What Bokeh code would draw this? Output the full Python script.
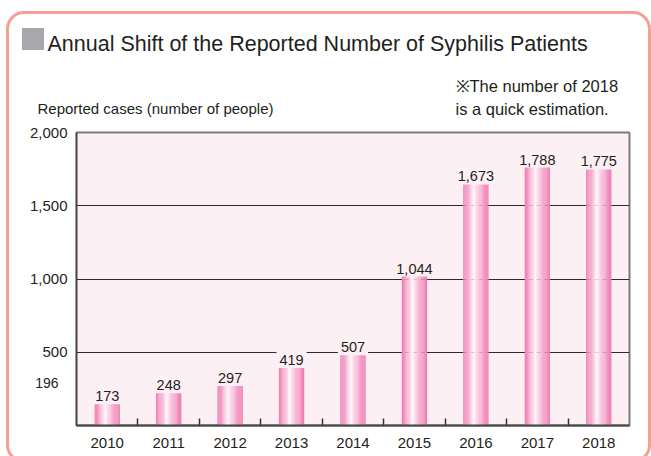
from bokeh.plotting import figure
from bokeh.models import Range1d, FixedTicker, Label, ColumnDataSource, InlineStyleSheet
from bokeh.core.properties import value
from bokeh.embed import file_html
from bokeh.resources import INLINE

# ---- data ----
years = ["2010", "2011", "2012", "2013", "2014", "2015", "2016", "2017", "2018"]
cases = [173, 248, 297, 419, 507, 1044, 1673, 1788, 1775]
case_labels = ["173", "248", "297", "419", "507", "1,044", "1,673", "1,788", "1,775"]
y_ticks = [500, 1000, 1500, 2000]
y_tick_labels = ["500", "1,000", "1,500", "2,000"]

TITLE = "Annual Shift of the Reported Number of Syphilis Patients"
Y_LABEL = "Reported cases (number of people)"
NOTE1 = "※The number of 2018"
NOTE2 = "is a quick estimation."
STRAY = "196"

TXT = "#231f20"
PINK_BG = "#fdf0f4"
FONT = "Liberation Sans"
W, H = 651, 456

p = figure(width=W, height=H, output_backend="svg", toolbar_location=None,
           x_range=Range1d(-0.5, 8.5), y_range=Range1d(0, 2000),
           min_border_left=76, min_border_right=22, min_border_top=132, min_border_bottom=31)
p.background_fill_color = PINK_BG
p.border_fill_color = "white"
p.outline_line_color = "#7a7a7a"
p.outline_line_width = 2
p.xgrid.grid_line_color = None
p.ygrid.ticker = FixedTicker(ticks=y_ticks[:-1])
p.ygrid.grid_line_color = "#2b2b2b"
p.ygrid.grid_line_width = 1

xax = p.xaxis[0]
xax.ticker = FixedTicker(ticks=list(range(len(years))), minor_ticks=[i + 0.5 for i in range(len(years) - 1)])
xax.major_label_overrides = {i: y for i, y in enumerate(years)}
xax.major_tick_line_color = None
xax.minor_tick_in = 7
xax.minor_tick_out = 0
xax.minor_tick_line_color = "#333333"
xax.minor_tick_line_width = 1.5
xax.axis_line_color = "#444444"
xax.axis_line_width = 2
xax.major_label_standoff = 6
xax.major_label_text_font = FONT
xax.major_label_text_font_size = "15px"
xax.major_label_text_color = TXT

yax = p.yaxis[0]
yax.ticker = FixedTicker(ticks=y_ticks)
yax.major_label_overrides = {t: l for t, l in zip(y_ticks, y_tick_labels)}
yax.major_tick_line_color = None
yax.minor_tick_line_color = None
yax.axis_line_color = "#444444"
yax.axis_line_width = 1.5
yax.major_label_standoff = 3
yax.major_label_text_font = FONT
yax.major_label_text_font_size = "15px"
yax.major_label_text_color = TXT

# ---- gradient bars simulated by thin strips ----
N = 22
bw = 0.41
edge = (239, 122, 177)
mid_t = 0.42


def strip_color(t):
    if t < mid_t:
        f = (mid_t - t) / mid_t
    else:
        f = (t - mid_t) / (1 - mid_t)
    f = min(1.0, f) ** 0.75
    r = int(round(255 + (edge[0] - 255) * f))
    g = int(round(255 + (edge[1] - 255) * f))
    b = int(round(255 + (edge[2] - 255) * f))
    return "#%02x%02x%02x" % (r, g, b)


xs, tops, cols = [], [], []
for i, v in enumerate(cases):
    for j in range(N):
        t = (j + 0.5) / N
        xs.append(i - bw / 2 + t * bw)
        tops.append(v)
        cols.append(strip_color(t))
p.vbar(x=xs, top=tops, bottom=0, width=bw / N * 1.15, fill_color=cols, line_color=None)

src = ColumnDataSource(dict(x=list(range(len(years))), y=cases, t=case_labels))
p.text(x="x", y="y", text="t", source=src, y_offset=-4, text_align="center",
       text_baseline="alphabetic", text_font=value(FONT),
       text_font_size="14.5px", text_color=TXT, background_fill_color=PINK_BG, padding=3)


# ---- texts in canvas units (placed in a side panel so they are not clipped) ----
def lab(text, x, y, size, align="left"):
    p.add_layout(Label(x=x, y=y, x_units="canvas", y_units="canvas", text=text,
                       text_font=FONT, text_font_size=size, text_color=TXT,
                       text_align=align, text_baseline="alphabetic"), "above")


lab(TITLE, 47, 43, "21.5px")
lab(Y_LABEL, 37, 108, "15px")
lab(NOTE1, 455, 85, "16.5px")
lab(NOTE2, 455, 108, "16.5px")
lab(STRAY, 58, 382, "14px", align="right")

# ---- rounded salmon frame and grey title square, drawn as page decoration ----
p.stylesheets = [InlineStyleSheet(css="""
:host { position: relative; }
:host::after {
  content: ""; position: absolute; box-sizing: border-box;
  left: 6px; top: 11px; width: 645px; height: 452px;
  border: 3.5px solid #f4a093; border-radius: 18px;
  pointer-events: none; z-index: 10;
}
:host::before {
  content: ""; position: absolute;
  left: 22px; top: 28px; width: 22px; height: 22px;
  background: #a7a8ab; pointer-events: none; z-index: 10;
}
""")]

open("out.html", "w").write(file_html(p, INLINE))
